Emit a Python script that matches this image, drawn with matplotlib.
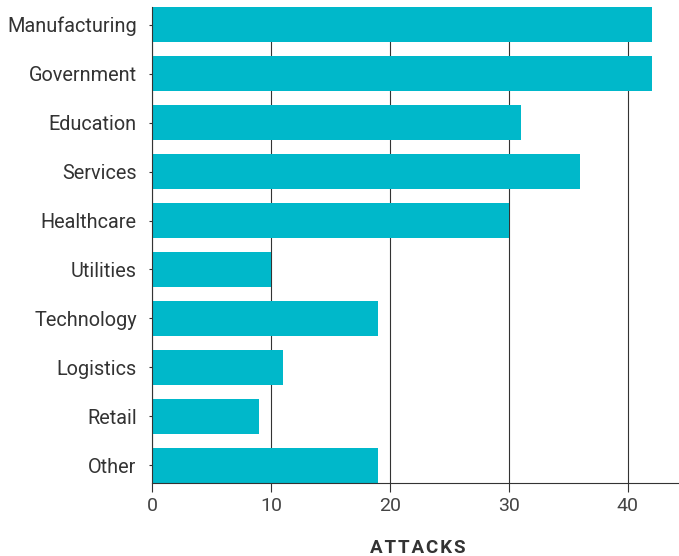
import matplotlib
matplotlib.use('Agg')
import matplotlib.pyplot as plt

sectors = ['Manufacturing', 'Government', 'Education', 'Services', 'Healthcare',
           'Utilities', 'Technology', 'Logistics', 'Retail', 'Other']
attacks = [42, 42, 31, 36, 30, 10, 19, 11, 9, 19]
x_ticks = [0, 10, 20, 30, 40]

plt.rcParams['font.family'] = ['Roboto', 'DejaVu Sans']

fig = plt.figure(figsize=(6.79, 5.56), dpi=100)
ax = fig.add_axes([152 / 679, 1 - 483 / 556, 1 - 152 / 679, 476 / 556])

ax.barh(range(len(sectors)), attacks, height=0.72, color='#00b8ca', zorder=2)
ax.set_yticks(range(len(sectors)))
ax.set_yticklabels(sectors)
ax.set_ylim(len(sectors) - 1 + 0.36, -0.36)
ax.set_xlim(0, 44.3)
ax.set_xticks(x_ticks)

ax.grid(axis='x', color='#333333', linewidth=0.8, zorder=1)
for s in ['top', 'right']:
    ax.spines[s].set_visible(False)
for s in ['left', 'bottom']:
    ax.spines[s].set_color('#333333')
    ax.spines[s].set_linewidth(0.8)

ax.tick_params(axis='y', length=2.5, width=0.8, color='#333333',
               labelsize=14.3, labelcolor='#333333', pad=8.5)
ax.tick_params(axis='x', length=6.5, width=0.8, color='#333333',
               labelsize=14, labelcolor='#444444', pad=3.5)

# axis title with a little letter spacing
fig.text(418 / 679, 3 / 556, '\u200a'.join('ATTACKS'), ha='center', va='baseline',
         fontsize=13.5, fontweight='bold', color='#333333')

fig.savefig('out.png', dpi=100)
